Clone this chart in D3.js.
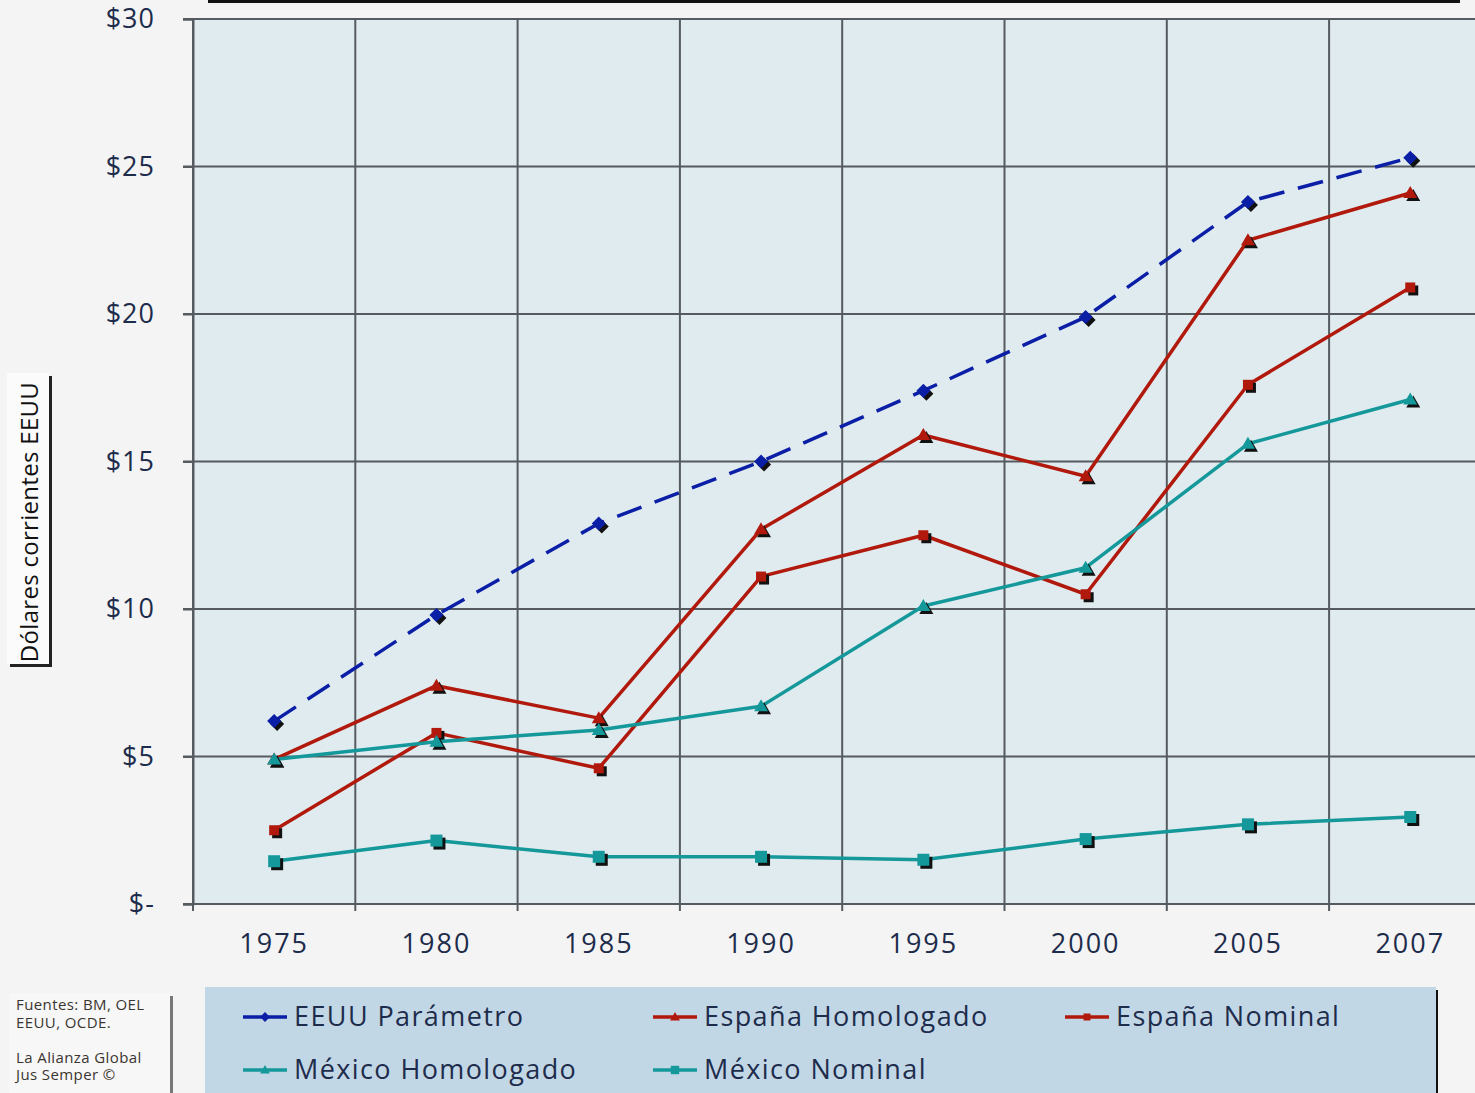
<!DOCTYPE html>
<html>
<head>
<meta charset="utf-8">
<script src="https://cdn.jsdelivr.net/npm/d3@7/dist/d3.min.js"></script>
<style>
  html, body { margin: 0; padding: 0; background: #f4f4f4; }
  svg { display: block; }
  text { font-family: "Open Sans", "Lato", sans-serif; }
</style>
</head>
<body>
<svg id="chart" width="1475" height="1093"></svg>
<script>
// ---- data ----
const years = ["1975", "1980", "1985", "1990", "1995", "2000", "2005", "2007"];
const yTicks = [0, 5, 10, 15, 20, 25, 30];
const eeuuParametro   = [6.2, 9.8, 12.9, 15.0, 17.4, 19.9, 23.8, 25.3];
const espanaHomologado = [4.9, 7.4, 6.3, 12.7, 15.9, 14.5, 22.5, 24.1];
const espanaNominal    = [2.5, 5.8, 4.6, 11.1, 12.5, 10.5, 17.6, 20.9];
const mexicoHomologado = [4.9, 5.5, 5.9, 6.7, 10.1, 11.4, 15.6, 17.1];
const mexicoNominal    = [1.45, 2.15, 1.6, 1.6, 1.5, 2.2, 2.7, 2.95];
const seriesNames = ["EEUU Parámetro", "España Homologado", "España Nominal", "México Homologado", "México Nominal"];
const yTitle = "Dólares corrientes EEUU";
const sourceLines = ["Fuentes: BM, OEL", "EEUU, OCDE.", "", "La Alianza Global", "Jus Semper ©"];

(function () {
const series = [
  { name: seriesNames[0], values: eeuuParametro,    color: "#0b1fa6", marker: "diamond",  dash: "26,14" },
  { name: seriesNames[1], values: espanaHomologado, color: "#b0190c", marker: "triangle", dash: null },
  { name: seriesNames[2], values: espanaNominal,    color: "#b0190c", marker: "bar",      dash: null },
  { name: seriesNames[3], values: mexicoHomologado, color: "#14989a", marker: "triangle", dash: null },
  { name: seriesNames[4], values: mexicoNominal,    color: "#14989a", marker: "square",   dash: null }
];

const svg = d3.select("#chart");
const pLeft = 193, pTop = 19, pBottom = 904, step = 162.3;
const pRight = 1475;

const x = d3.scaleBand().domain(years).range([pLeft, pLeft + step * years.length]).padding(0);
const y = d3.scaleLinear().domain([0, 30]).range([pBottom, pTop]);

// top black bar (title box border, cut off)
svg.append("rect").attr("x", 208).attr("y", -2).attr("width", 1252).attr("height", 5).attr("fill", "#111");

// plot background
svg.append("rect").attr("x", pLeft).attr("y", pTop).attr("width", pRight - pLeft).attr("height", pBottom - pTop)
  .attr("fill", "#e0ebf0");

const gridColor = "#555b5e";
// horizontal gridlines
svg.append("g").selectAll("line").data(yTicks.filter(d => d > 0)).join("line")
  .attr("x1", pLeft - 10).attr("x2", pRight)
  .attr("y1", d => y(d)).attr("y2", d => y(d))
  .attr("stroke", gridColor).attr("stroke-width", 2);

// vertical gridlines at band edges
svg.append("g").selectAll("line").data(years).join("line")
  .attr("x1", d => x(d)).attr("x2", d => x(d))
  .attr("y1", pTop).attr("y2", pBottom + 7)
  .attr("stroke", gridColor).attr("stroke-width", 2);

// y axis
const yAxis = d3.axisLeft(y).tickValues(yTicks)
  .tickFormat(d => d === 0 ? "$-" : "$" + d)
  .tickSize(10).tickPadding(28);
const gy = svg.append("g").attr("transform", `translate(${pLeft},0)`).call(yAxis);
gy.select(".domain").attr("stroke", gridColor).attr("stroke-width", 2);
gy.selectAll(".tick line").attr("stroke", gridColor).attr("stroke-width", 2);
gy.selectAll(".tick text").attr("font-size", 27).attr("fill", "#1e2c4c")
  .attr("letter-spacing", 1)
  .attr("font-family", "'Open Sans', sans-serif");

// x axis baseline
svg.append("line").attr("x1", pLeft - 10).attr("x2", pRight).attr("y1", pBottom).attr("y2", pBottom)
  .attr("stroke", gridColor).attr("stroke-width", 2);

const xAxis = d3.axisBottom(x).tickSize(0).tickPadding(30);
const gx = svg.append("g").attr("transform", `translate(0,${pBottom})`).call(xAxis);
gx.select(".domain").remove();
gx.selectAll(".tick text").attr("font-size", 27).attr("fill", "#1e2c4c")
  .attr("letter-spacing", 2)
  .attr("font-family", "'Open Sans', sans-serif");

// markers
function markerPath(type) {
  if (type === "diamond") return "M0,-7L7,0L0,7L-7,0Z";
  if (type === "triangle") return "M0,-7L7,5L-7,5Z";
  if (type === "square") return "M-6,-6L6,-6L6,6L-6,6Z";
  if (type === "bar") return "M-5,-5L5,-5L5,5L-5,5Z";
}

const line = d3.line().x((d, i) => x(years[i]) + x.bandwidth() / 2).y(d => y(d));

series.forEach(s => {
  const g = svg.append("g");
  g.append("path").attr("d", line(s.values)).attr("fill", "none")
    .attr("stroke", s.color).attr("stroke-width", 3.5)
    .attr("stroke-dasharray", s.dash).attr("stroke-linejoin", "round");
  g.selectAll("path.shadow").data(s.values).join("path").attr("class", "shadow")
    .attr("d", markerPath(s.marker))
    .attr("transform", (d, i) => `translate(${x(years[i]) + x.bandwidth() / 2 + 3},${y(d) + 3})`)
    .attr("fill", "#111");
  g.selectAll("path.mark").data(s.values).join("path").attr("class", "mark")
    .attr("d", markerPath(s.marker))
    .attr("transform", (d, i) => `translate(${x(years[i]) + x.bandwidth() / 2},${y(d)})`)
    .attr("fill", s.color);
});

// y axis title box
svg.append("rect").attr("x", 10).attr("y", 376).attr("width", 42).attr("height", 291).attr("fill", "#222");
svg.append("rect").attr("x", 7).attr("y", 373).attr("width", 42).attr("height", 291).attr("fill", "#fbfbfb");
svg.append("text").attr("transform", "translate(38,522) rotate(-90)")
  .attr("text-anchor", "middle").attr("font-size", 24).attr("fill", "#111")
  .attr("letter-spacing", 0.3)
  .attr("font-family", "'Open Sans', sans-serif")
  .text(yTitle);

// source box
svg.append("rect").attr("x", 12).attr("y", 996).attr("width", 161).attr("height", 110).attr("fill", "#777");
svg.append("rect").attr("x", 9).attr("y", 993).attr("width", 161).attr("height", 110).attr("fill", "#f7f7f7");
svg.append("g").selectAll("text").data(sourceLines).join("text")
  .attr("x", 16).attr("y", (d, i) => 1010 + i * 17.5)
  .attr("font-size", 15).attr("fill", "#3a3530").attr("letter-spacing", 0.4)
  .attr("font-family", "'Open Sans', sans-serif")
  .text(d => d);

// legend box
svg.append("rect").attr("x", 1434).attr("y", 990).attr("width", 4).attr("height", 110).attr("fill", "#111");
svg.append("rect").attr("x", 205).attr("y", 987).attr("width", 1231).attr("height", 110).attr("fill", "#c2d7e6");

const legendPos = [[243, 1017], [653, 1017], [1065, 1017], [243, 1070], [653, 1070]];
series.forEach((s, i) => {
  const [lx, ly] = legendPos[i];
  const g = svg.append("g").attr("transform", `translate(${lx},${ly})`);
  g.append("line").attr("x1", 0).attr("x2", 44).attr("y1", 0).attr("y2", 0)
    .attr("stroke", s.color).attr("stroke-width", 3.5);
  g.append("path").attr("d", markerPath(s.marker)).attr("transform", "translate(22,0) scale(0.7)")
    .attr("fill", s.color);
  g.append("text").attr("x", 51).attr("y", 0).attr("dy", "0.35em")
    .attr("font-size", 27).attr("fill", "#1e2c4c").attr("letter-spacing", 1.4)
    .attr("font-family", "'Open Sans', sans-serif")
    .text(s.name);
});
})();
</script>
</body>
</html>
